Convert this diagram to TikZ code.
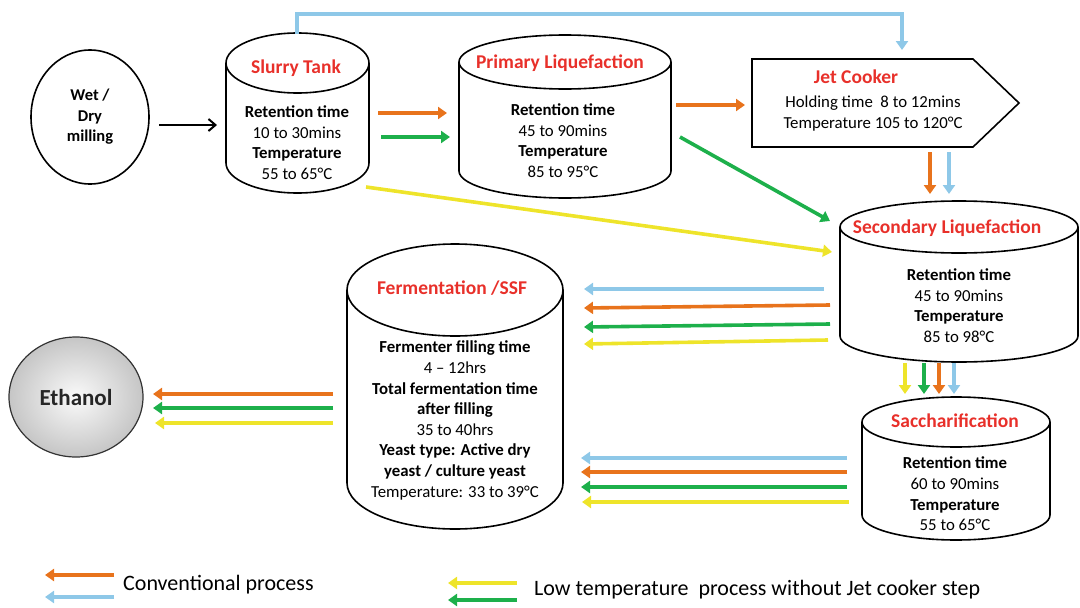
\documentclass[tikz,border=0pt]{standalone}
\usepackage{fontspec}
\setmainfont{Carlito}
\usetikzlibrary{arrows.meta,shapes.geometric,calc}
\definecolor{cor}{HTML}{E8731C}
\definecolor{cgr}{HTML}{1DB04B}
\definecolor{cbl}{HTML}{8EC8E8}
\definecolor{cye}{HTML}{EEE42A}
\definecolor{ctitle}{HTML}{E8302A}
\tikzset{
  tankline/.style={line width=1.6pt,black},
  fat/.style={line width=3.6pt,-{Triangle[length=9pt,width=12pt]}},
  ttl/.style={text=ctitle,font=\fontsize{19.5}{22}\selectfont\bfseries},
  body/.style={align=center,font=\fontsize{16.8}{20.6}\selectfont,inner sep=0pt},
}
\newcommand\tank[6]{%
  \draw[tankline] (#2-#5,#3) -- (#2-#5,#4) arc[start angle=180,end angle=0,x radius=#5,y radius=#6] -- (#2+#5,#3);
  \draw[tankline] (#2,#3) ellipse[x radius=#5,y radius=#6];
  \node[inner sep=0pt,minimum width={2*#5},minimum height={#4-#3+2*#6}] (#1) at (#2,{(#3+#4)/2}) {};
}
\begin{document}
\begin{tikzpicture}[x=1pt,y=-1pt]
\useasboundingbox (0,0) rectangle (1080,608);
% milling
\node[draw,line width=1.6pt,ellipse,minimum width=118,minimum height=134,inner sep=0pt,
  align=center,font=\fontsize{16.5}{20.5}\selectfont\bfseries] (milling) at (90,117) {Wet /\\Dry\\milling};
% tanks
\tank{slurry}{297.5}{63}{163}{71.5}{30}
\node[ttl] (slurryT) at (296,68) {Slurry Tank};
\node[body] (slurryB) at (297,142.5) {\textbf{Retention time}\\10 to 30mins\\\textbf{Temperature}\\55 to 65°C};
\tank{primary}{565}{62}{171}{106}{27}
\node[ttl] (primaryT) at (560,63) {Primary Liquefaction};
\node[body] (primaryB) at (563,140.5) {\textbf{Retention time}\\45 to 90mins\\\textbf{Temperature}\\85 to 95°C};
\tank{secondary}{959}{227}{336}{119}{26}
\node[ttl] (secondaryT) at (947,228) {Secondary Liquefaction};
\node[body] (secondaryB) at (959,305.5) {\textbf{Retention time}\\45 to 90mins\\\textbf{Temperature}\\85 to 98°C};
\tank{sacch}{956}{422}{515}{94}{25}
\node[ttl] (sacchT) at (955,421) {Saccharification};
\node[body] (sacchB) at (955,494) {\textbf{Retention time}\\60 to 90mins\\\textbf{Temperature}\\55 to 65°C};
\tank{ferm}{455}{290}{483}{108}{46}
\node[ttl] (fermT) at (452,288) {Fermentation /SSF};
\node[body] (fermB) at (455,420.5) {\textbf{Fermenter filling time}\\4 – 12hrs\\\textbf{Total fermentation time}\\\textbf{after filling}\\35 to 40hrs\\\textbf{Yeast type: Active dry}\\\textbf{yeast / culture yeast}\\Temperature: 33 to 39°C};
% jet cooker
\draw[tankline] (752,59) -- (973,59) -- (1019,103) -- (973,147) -- (752,147) -- cycle;
\node[inner sep=0pt,minimum width=267,minimum height=88] (jet) at (885.5,103) {};
\node[ttl] (jetT) at (856,77) {Jet Cooker};
\node[body] (jetB) at (873,113.5) {Holding time\ \ 8 to 12mins\\Temperature 105 to 120°C};
% ethanol
\shade[inner color=gray!4,outer color=gray!45,draw=black!80,line width=1.2pt] (76,397) ellipse[x radius=67,y radius=60];
\node[inner sep=0pt,font=\fontsize{23}{26}\selectfont\bfseries,text=black!85] (ethanol) at (76,398) {Ethanol};
% arrows
\draw[line width=2pt,-{Straight Barb[length=7pt,width=12pt]}] (159,125) -- (217,125);
\draw[fat,cor] (378,113) -- (447,113);
\draw[fat,cgr] (381,137) -- (450,137);
\draw[fat,cor] (676,105) -- (745,105);
\draw[fat,cbl] (297,34) -- (297,14) -- (902,14) -- (902,50);
\draw[fat,cgr] (680,137) -- (830,221);
\draw[fat,cye] (366,187) -- (832,252);
\draw[fat,cor] (930,152) -- (930,194);
\draw[fat,cbl] (949,152) -- (949,194);
\draw[fat,cye] (905,363) -- (905,394);
\draw[fat,cgr] (924,363) -- (924,394);
\draw[fat,cor] (939,363) -- (939,394);
\draw[fat,cbl] (954,363) -- (954,394);
% secondary -> ferm
\draw[fat,cbl] (824,289) -- (584,289);
\draw[fat,cor] (830,305) -- (584,308);
\draw[fat,cgr] (830,324) -- (584,327);
\draw[fat,cye] (828,340) -- (584,344);
% sacch -> ferm
\draw[fat,cbl] (847,458) -- (581,458);
\draw[fat,cor] (847,472) -- (581,472);
\draw[fat,cgr] (847,487) -- (581,487);
\draw[fat,cye] (849,502) -- (582,502);
% ferm -> ethanol
\draw[fat,cor] (333,394) -- (153,394);
\draw[fat,cgr] (333,408) -- (153,408);
\draw[fat,cye] (333,423) -- (155,423);
% legend
\draw[fat,cor] (114,575) -- (45,575);
\draw[fat,cbl] (114,597) -- (45,597);
\node[anchor=west,inner sep=0pt,font=\fontsize{22}{24}\selectfont] (leg1) at (123,585) {Conventional process};
\draw[fat,cye] (517,583) -- (448,583);
\draw[fat,cgr] (517,600) -- (448,600);
\node[anchor=west,inner sep=0pt,font=\fontsize{22}{24}\selectfont] (leg2) at (534,590) {Low temperature\ \ process without Jet cooker step};
\end{tikzpicture}
\end{document}
